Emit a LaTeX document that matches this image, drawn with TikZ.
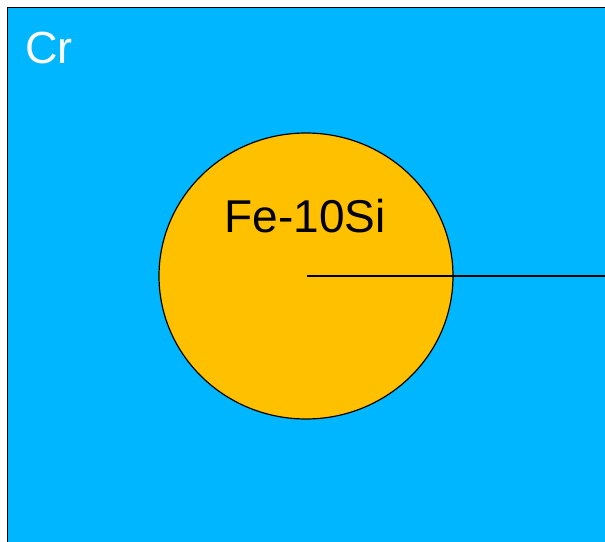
\documentclass[tikz,border=0pt]{standalone}
\usepackage{fontspec}
\setmainfont{Liberation Sans}
\usetikzlibrary{shapes.geometric}
\definecolor{crblue}{RGB}{0,183,255}
\definecolor{feorange}{RGB}{255,192,0}
\tikzset{
  region/.style={fill=crblue, draw=black, line width=1.8pt},
  grain/.style={ellipse, fill=feorange, draw=black, line width=1.2pt, minimum width=294pt, minimum height=286pt, inner sep=0pt},
  lbl/.style={inner sep=0pt, anchor=base west},
}
\begin{document}
\begin{tikzpicture}[x=1pt,y=1pt]
\useasboundingbox (0,0) rectangle (605,-541);
\begin{scope}
\clip (0,0) rectangle (605,-541);
\draw[region] (7.5,-7.5) rectangle (640,-580);
\end{scope}
\node[grain] (fe) at (306,-276) {};
\node[lbl, text=white, font=\fontsize{45}{50}\selectfont] (cr) at (25,-63) {Cr};
\node[inner sep=0pt, anchor=base, font=\fontsize{46}{50}\selectfont] (fel) at (305,-232) {Fe-10Si};
\coordinate (edge) at (605,-276);
\draw[line width=1.2pt] (307,-276) -- (edge);
\end{tikzpicture}
\end{document}
